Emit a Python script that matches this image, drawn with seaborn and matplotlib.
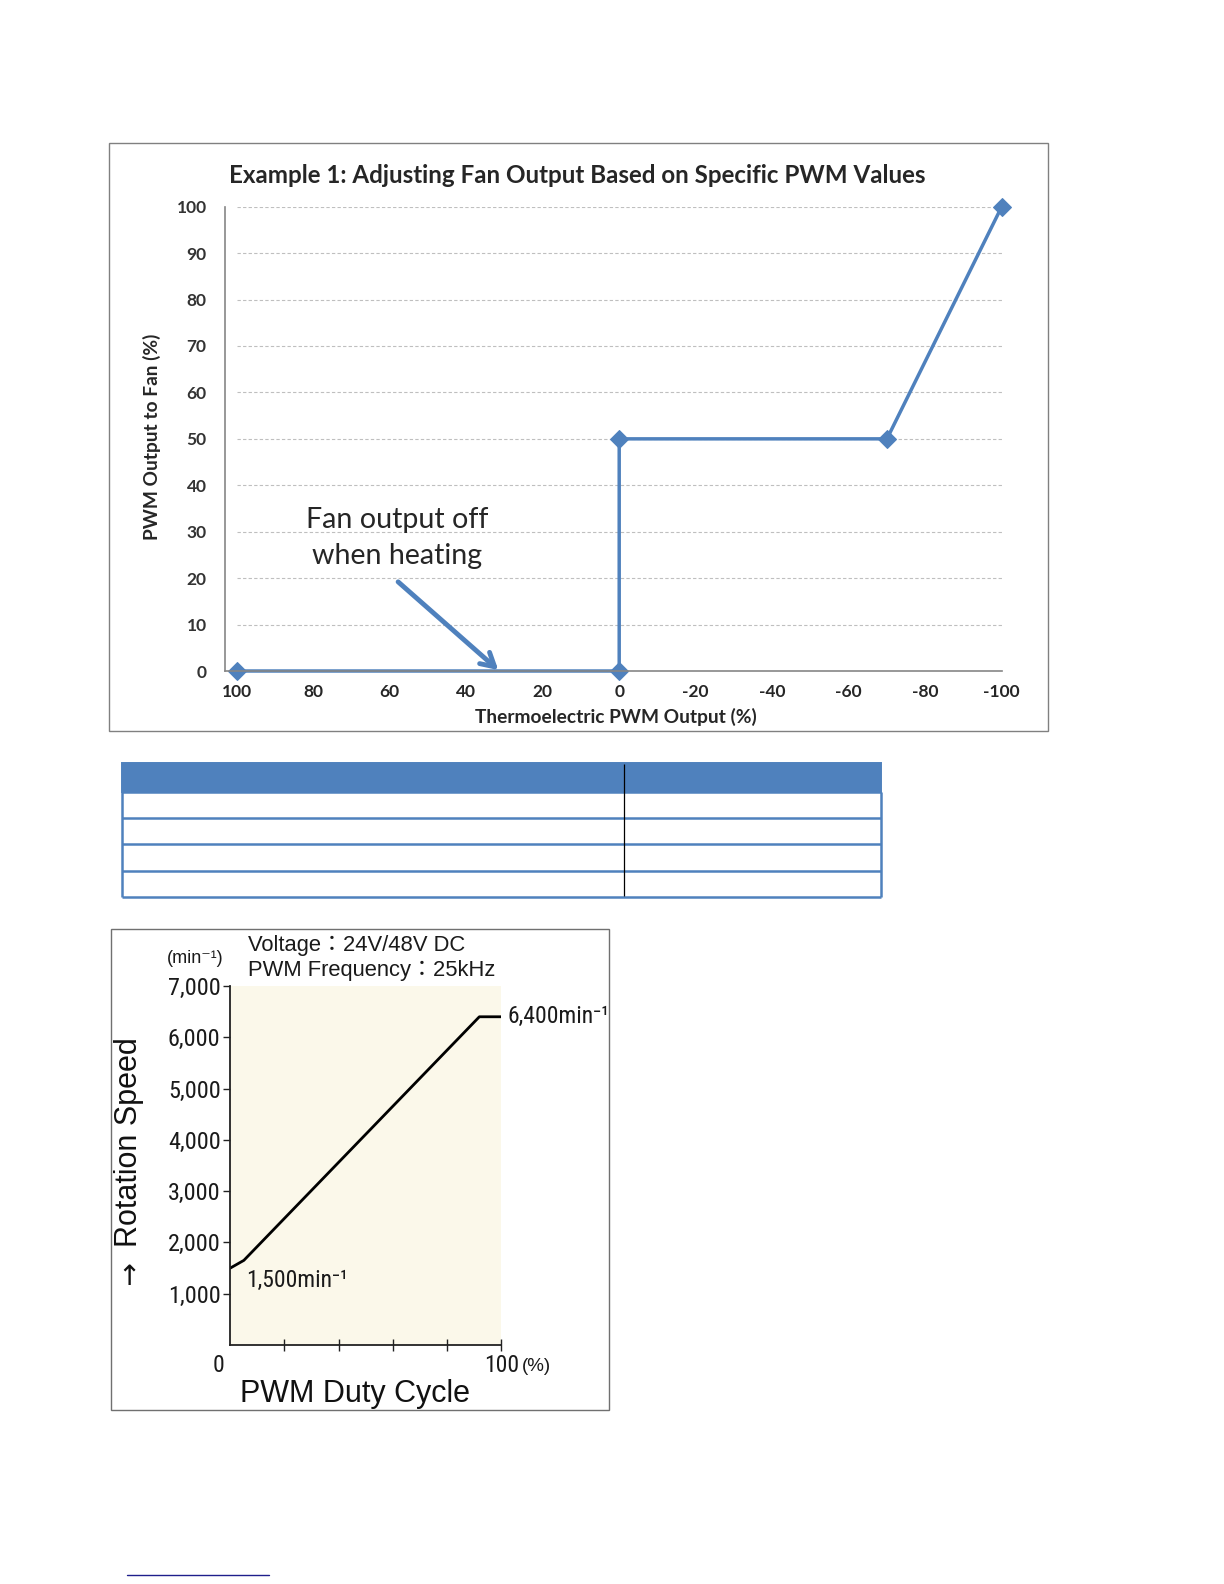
import numpy as np
import pandas as pd
import matplotlib
matplotlib.use("Agg")
import matplotlib.pyplot as plt
import seaborn as sns
from matplotlib.patches import Rectangle
from matplotlib import font_manager

W, H = 1224, 1584

# Example 1: fan PWM vs thermoelectric PWM
te_pwm = [100, 0, 0, -70, -100]
fan_pwm = [0, 0, 50, 50, 100]
top_xticks = [100, 80, 60, 40, 20, 0, -20, -40, -60, -80, -100]
top_yticks = [0, 10, 20, 30, 40, 50, 60, 70, 80, 90, 100]

# fan curve: rotation speed vs PWM duty cycle
duty = [0, 5, 92, 100]
rpm = [1500, 1650, 6400, 6400]
rpm_ticks = [1000, 2000, 3000, 4000, 5000, 6000, 7000]
rpm_labels = ["1,000", "2,000", "3,000", "4,000", "5,000", "6,000", "7,000"]
duty_ticks = [20, 40, 60, 80, 100]

# empty table between the charts
table_body_rows = 4

BLUE = "#4F81BD"
CREAM = "#FBF8EA"


def fx(px):
    return px / W


def fy(py):
    return 1 - py / H


def box(x0, y0, x1, y1, **kw):
    fig.add_artist(Rectangle((fx(x0), fy(y1)), fx(x1) - fx(x0), fy(y0) - fy(y1),
                             transform=fig.transFigure, fill=False, **kw))


def narrow_font():
    # the lower chart uses a condensed face for its numbers
    entries = font_manager.fontManager.ttflist
    names = {f.name for f in entries}
    for n in ["Liberation Sans Narrow", "Roboto Condensed", "Open Sans Condensed",
              "Noto Sans Condensed", "DejaVu Sans Condensed"]:
        if n in names:
            return {"family": [n, "DejaVu Sans"]}, 1.0
    for n in ["Noto Sans", "DejaVu Sans", "Liberation Sans", "Open Sans", "Roboto"]:
        for f in entries:
            if f.name == n and str(f.stretch) in ("condensed", "semi-condensed"):
                return {"family": [n, "DejaVu Sans"], "fontstretch": f.stretch}, 1.0
    return {"family": ["Liberation Sans", "DejaVu Sans"]}, 0.9


sns.set_theme(style="ticks")
plt.rcParams["font.family"] = ["Lato", "DejaVu Sans"]
NAR, NSCALE = narrow_font()

fig = plt.figure(figsize=(W / 100, H / 100), dpi=100)

# ---------------- top chart ----------------
box(109, 143, 1047.7, 730.7, edgecolor="#808080", lw=1.0)
ax1 = fig.add_axes([fx(224.7), fy(671), fx(1001.7) - fx(224.7), fy(206.7) - fy(671)])
top_df = pd.DataFrame({"te": te_pwm, "fan": fan_pwm})
sns.lineplot(data=top_df, x="te", y="fan", ax=ax1, sort=False, estimator=None,
             color=BLUE, lw=2.5, marker="D", markersize=9.5,
             markeredgecolor=BLUE, markerfacecolor=BLUE)
for ln in ax1.lines:
    ln.set_clip_on(False)
ax1.hlines(top_yticks[1:], 100, -100, colors="#BFBFBF", linestyles=(0, (3, 2)),
           lw=0.8, zorder=0)
ax1.set_xlim(103.14, -100)
ax1.set_ylim(0, 100)
ax1.set_xticks(top_xticks)
ax1.set_xticklabels([str(v) for v in top_xticks], fontweight="bold", fontsize=12.5)
ax1.set_yticks(top_yticks)
ax1.set_yticklabels([str(v) for v in top_yticks], fontweight="bold", fontsize=12.5,
                    color="#333333")
ax1.tick_params(axis="x", length=0, pad=9)
ax1.tick_params(axis="y", length=0, pad=13)
ax1.set_xlabel("")
ax1.set_ylabel("")
for s in ["top", "right"]:
    ax1.spines[s].set_visible(False)
for s in ["left", "bottom"]:
    ax1.spines[s].set_color("#868686")
    ax1.spines[s].set_linewidth(1.2)

fig.text(fx(577), fy(182.7), "Example 1: Adjusting Fan Output Based on Specific PWM Values",
         ha="center", va="baseline", fontsize=17.4, fontweight="bold")
fig.text(fx(615.4), fy(723.3), "Thermoelectric PWM Output (%)", ha="center",
         va="baseline", fontsize=13.8, fontweight="bold")
fig.text(fx(151.5), fy(436.7), "PWM Output to Fan (%)", ha="center", va="center",
         rotation=90, fontsize=13.8, fontweight="bold")

ax1.annotate("", xy=(31.6, 0.2), xytext=(57.8, 19.2),
             arrowprops=dict(arrowstyle="->,head_length=0.8,head_width=0.45",
                             color=BLUE, lw=3.5, shrinkA=0, shrinkB=0))
fig.text(fx(397.5), fy(527.7), "Fan output off", ha="center", va="baseline", fontsize=20.6)
fig.text(fx(397.5), fy(564), "when heating", ha="center", va="baseline", fontsize=20.6)

# ---------------- table ----------------
axt = fig.add_axes([fx(122), fy(897), fx(881) - fx(122), fy(762.5) - fy(897)])
axt.set_axis_off()
axt.set_xlim(0, 1)
axt.set_ylim(table_body_rows + 1.12, 0)
axt.add_patch(Rectangle((0, 0), 1, 1.12, facecolor=BLUE, edgecolor=BLUE, lw=1.4,
                        clip_on=False))
edges = [1.12 + i for i in range(table_body_rows + 1)]
axt.hlines(edges, 0, 1, colors=BLUE, lw=1.8, clip_on=False)
axt.vlines([0, 1], 1.12, edges[-1], colors=BLUE, lw=1.8, clip_on=False)
axt.vlines([0.661], 0.05, edges[-1] - 0.05, colors="black", lw=0.9, clip_on=False)

# ---------------- bottom chart ----------------
box(111, 929, 609.3, 1410, edgecolor="#707070", lw=1.0)
ax2 = fig.add_axes([fx(230.3), fy(1345), fx(501) - fx(230.3), fy(986) - fy(1345)],
                   facecolor=CREAM)
sns.lineplot(x=duty, y=rpm, ax=ax2, color="black", lw=2.0)
ax2.set_xlim(0, 100)
ax2.set_ylim(0, 7000)
ax2.set_yticks(rpm_ticks)
ax2.set_yticklabels(rpm_labels, fontsize=17.5 * NSCALE, color="#1a1a1a", **NAR)
ax2.set_xticks(duty_ticks)
ax2.set_xticklabels([""] * len(duty_ticks))
ax2.tick_params(axis="y", direction="out", length=5, width=1, pad=2, color="#222222")
ax2.tick_params(axis="x", direction="inout", length=9, width=1, color="#222222")
for s in ["top", "right"]:
    ax2.spines[s].set_visible(False)
for s in ["left", "bottom"]:
    ax2.spines[s].set_color("#222222")
    ax2.spines[s].set_linewidth(1.3)

reg = ["Liberation Sans", "Noto Sans CJK JP", "DejaVu Sans"]
fig.text(fx(248), fy(950.7), "Voltage：24V/48V DC", ha="left", va="baseline",
         fontsize=15.8, family=reg, color="#1a1a1a")
fig.text(fx(248), fy(975.7), "PWM Frequency：25kHz", ha="left", va="baseline",
         fontsize=15.8, family=reg, color="#1a1a1a")
fig.text(fx(195.5), fy(963), "(min⁻¹)", ha="center", va="baseline", fontsize=13,
         family=reg, color="#1a1a1a")
fig.text(fx(507), fy(1023.3), "6,400min⁻¹", ha="left", va="baseline",
         fontsize=17.5 * NSCALE * 0.97, color="#1a1a1a", **NAR)
fig.text(fx(246.3), fy(1286.7), "1,500min⁻¹", ha="left", va="baseline",
         fontsize=17.5 * NSCALE * 0.97, color="#1a1a1a", **NAR)
fig.text(fx(218.3), fy(1372), "0", ha="center", va="baseline", fontsize=17 * NSCALE,
         color="#1a1a1a", **NAR)
fig.text(fx(501.7), fy(1372), "100", ha="center", va="baseline", fontsize=17 * NSCALE,
         color="#1a1a1a", **NAR)
fig.text(fx(536.5), fy(1371), "(%)", ha="center", va="baseline", fontsize=13.5,
         family=reg, color="#1a1a1a")
fig.text(fx(355), fy(1401.7), "PWM Duty Cycle", ha="center", va="baseline",
         fontsize=22, family=reg, color="#111111")
fig.text(fx(129), fy(1141.7), "Rotation Speed", ha="center", va="center", rotation=90,
         fontsize=22, family=reg, color="#111111")
fig.text(fx(128.7), fy(1276.7), "↑", ha="center", va="center", fontsize=20,
         family=["DejaVu Sans"], color="#111111")

# footnote separator line
fig.add_artist(plt.Line2D([fx(127.3), fx(269)], [fy(1575), fy(1575)],
                          transform=fig.transFigure, color="#1F1F8C", lw=1.0))

fig.savefig("out.png", dpi=100)
